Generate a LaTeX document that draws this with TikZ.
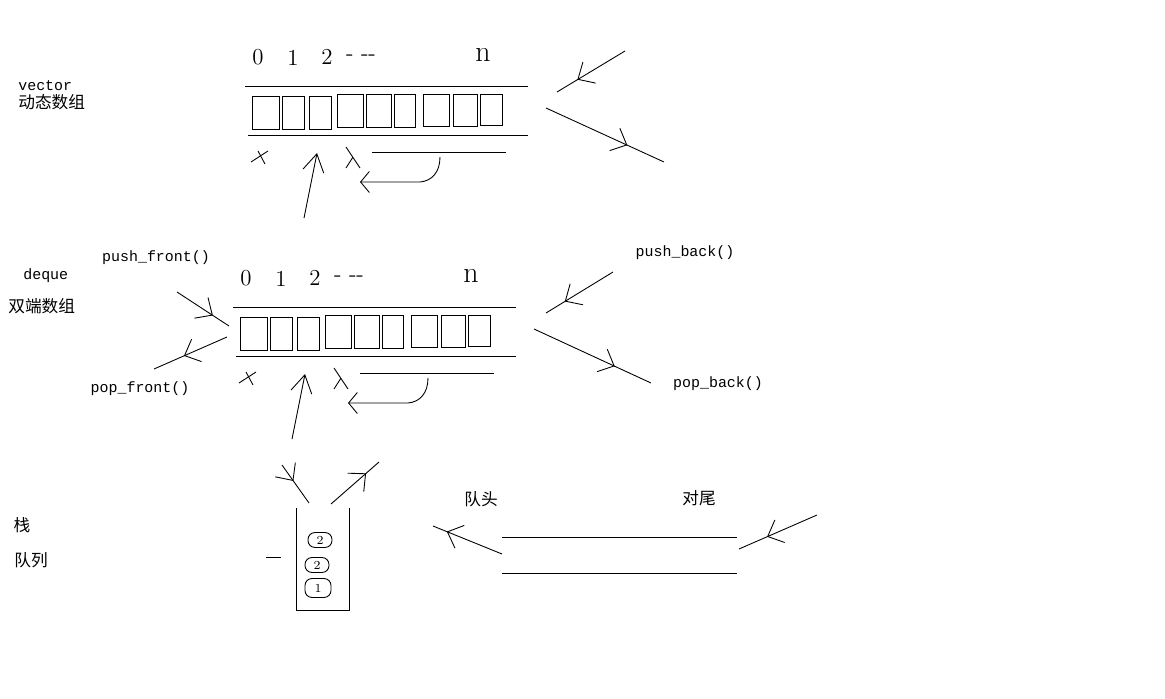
\documentclass[tikz,border=0pt]{standalone}
\usepackage{fontspec}
\newfontfamily\monofont{Liberation Mono}
\newfontfamily\cjk{Noto Sans CJK SC}
\usepackage{tikz}
\usetikzlibrary{arrows.meta,decorations.markings}

\tikzset{
  sketch/.style={line width=0.5pt},
  barb/.style={-{Straight Barb[length=5pt,width=12pt]}},
  midbarb/.style={postaction={decorate},
    decoration={markings,mark=at position #1 with {\arrow{Straight Barb[length=7.5pt,width=14pt]}}}},
  code/.style={font=\monofont\fontsize{8.5}{10}\selectfont, inner sep=0pt},
  hanzi/.style={font=\cjk\fontsize{9.5}{11}\selectfont, inner sep=0pt},
  digit/.style={font=\fontsize{13}{15}\selectfont, inner sep=0pt},
  ball/.style={draw, sketch, rounded corners=4pt, minimum width=0.48cm, minimum height=0.3cm,
    inner sep=0pt, font=\fontsize{7}{8}\selectfont},
}

% one array sketch: index digits, cells, marks and the shifting arrow
\newcommand{\arrsketch}{
  \node[digit] (i0) at (258,57) {0};
  \node[digit] (i1) at (293,58) {1};
  \node[digit] (i2) at (327,57) {2};
  \node[digit] (idots) at (361,58) {-\ -{}-};
  \node[digit, font=\fontsize{17}{19}\selectfont] (in) at (483,55) {n};
  \draw[sketch] (245,86) -- (528,86);
  \draw[sketch] (248,135) -- (528,135);
  \foreach \a/\b/\t/\u in {252/279/96/129, 282/304/96/129, 309/331/96/129,
                           337/363/94/127, 366/391/94/127, 394/415/94/127,
                           423/449/94/126, 453/477/94/126, 480/502/94/125}
    \draw[sketch] (\a,\t) rectangle (\b,\u);
  \draw[sketch] (251,162) -- (268,151) (258,151) -- (265,164);
  \draw[sketch] (346,147) -- (360,168) (353,157) -- (346,168);
  \draw[sketch] (372,152) -- (506,152);
  \draw[sketch, barb] (440,157) .. controls (440,172) and (432,181) .. (420,182) -- (360,182);
  \draw[sketch, -{Straight Barb[length=10pt,width=12pt]}] (304,218) -- (317,153);
}

\begin{document}
\begin{tikzpicture}[x=0.02cm, y=-0.02cm]
  \fill[white] (0,0) rectangle (1165,699);

  % vector
  \node[code, anchor=west] (vec) at (18,86) {vector};
  \node[hanzi, anchor=west] (vecname) at (18,102) {动态数组};
  \begin{scope}[name prefix=v-]
    \arrsketch
  \end{scope}
  \draw[sketch, midbarb=0.7] (625,51) -- (557,92);
  \draw[sketch, midbarb=0.69] (546,108) -- (664,162);

  % deque
  \node[code, anchor=west] (dq) at (23,276) {deque};
  \node[hanzi, anchor=west] (dqname) at (8,306) {双端数组};
  \begin{scope}[shift={(-12,221)}, name prefix=d-]
    \arrsketch
  \end{scope}
  \node[code] (pf) at (156,258) {push\_front()};
  \node[code] (pof) at (140,389) {pop\_front()};
  \node[code] (pb) at (685,253) {push\_back()};
  \node[code] (pob) at (718,384) {pop\_back()};
  \draw[sketch, midbarb=0.69] (177,292) -- (229,326);
  \draw[sketch, midbarb=0.59] (227,337) -- (154,369);
  \draw[sketch, midbarb=0.72] (613,272) -- (546,313);
  \draw[sketch, midbarb=0.69] (534,329) -- (651,383);

  % stack
  \node[hanzi] (stk) at (22,525) {栈};
  \node[hanzi] (que) at (31,560) {队列};
  \draw[sketch] (296,508) -- (296,610) -- (349,610) -- (349,508);
  \draw[sketch] (266,557) -- (281,557);
  \node[ball] (top) at (320,540) {2};
  \node[ball] (mid) at (317,565) {2};
  \node[ball, minimum height=0.38cm, minimum width=0.52cm] (bot) at (318,588) {1};
  \draw[sketch, midbarb=0.42] (282,465) -- (309,503);
  \draw[sketch, midbarb=0.73] (331,504) -- (379,462);

  % queue
  \node[hanzi] (qhead) at (481,499) {队头};
  \node[hanzi] (qtail) at (699,498) {对尾};
  \draw[sketch] (502,537) -- (737,537);
  \draw[sketch] (502,573) -- (737,573);
  \draw[sketch, midbarb=0.8] (502,554) -- (433,526);
  \draw[sketch, midbarb=0.64] (817,515) -- (739,549);
\end{tikzpicture}
\end{document}
